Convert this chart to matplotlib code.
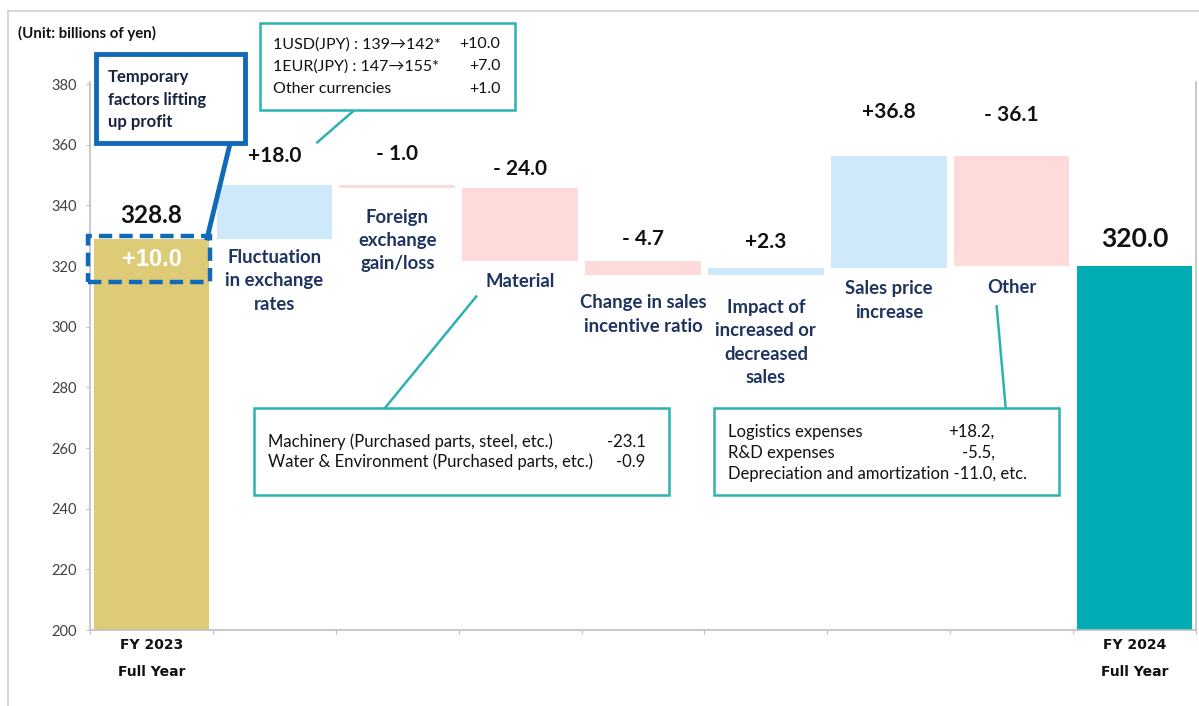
import numpy as np
import matplotlib
matplotlib.use('Agg')
import matplotlib.pyplot as plt
from matplotlib.patches import Rectangle
from matplotlib.lines import Line2D

plt.rcParams['font.family'] = ['Lato', 'DejaVu Sans']

# data (billions of yen)
start_value = 328.8
end_value = 320.0
temp_factor = 10.0
changes = [18.0, -1.0, -24.0, -4.7, 2.3, 36.8, -36.1]
change_text = ['+18.0', '- 1.0', '- 24.0', '- 4.7', '+2.3', '+36.8', '- 36.1']
categories = ['Fluctuation\nin exchange\nrates', 'Foreign\nexchange\ngain/loss', 'Material',
              'Change in sales\nincentive ratio', 'Impact of\nincreased or\ndecreased\nsales',
              'Sales price\nincrease', 'Other']
end_labels = [('FY 2023', 'Full Year'), ('FY 2024', 'Full Year')]
yticks = [200, 220, 240, 260, 280, 300, 320, 340, 360, 380]

fx_items = ['1USD(JPY) : 139\u2192142*', '1EUR(JPY) : 147\u2192155*', 'Other currencies']
fx_values = ['+10.0', '+7.0', '+1.0']
material_items = ['Machinery (Purchased parts, steel, etc.)', 'Water & Environment (Purchased parts, etc.)']
material_values = ['-23.1', '-0.9']
other_items = ['Logistics expenses', 'R&D expenses', 'Depreciation and amortization -11.0, etc.']
other_values = ['+18.2,', '-5.5,', '']

# label placement (data units)
value_label_y = [356.2, 356.9, 351.9, 328.8, 328.1, 370.8, 369.8]
cat_label_y = [315.1, 328.5, 315.0, 304.0, 294.8, 308.7, 313.0]

GOLD = '#DECB77'
TEAL = '#00ADB5'
UP = '#CDE9FA'
DOWN = '#FDDBDB'
NAVY = '#1F3360'
BOXC = '#2DB2B2'
BLUE = '#1169B8'
GRID = '#BFBFBF'

fig = plt.figure(figsize=(11.99, 7.06), dpi=100)
ax = fig.add_axes([0.0751, 0.1076, 0.9224, 0.7762])

w = 0.94
ax.bar(0, start_value - 200, bottom=200, width=w, color=GOLD, zorder=2)
level = start_value
for i, c in enumerate(changes):
    x = i + 1
    lo = min(level, level + c)
    ax.bar(x, abs(c), bottom=lo, width=w, color=UP if c > 0 else DOWN, zorder=2)
    ax.text(x, value_label_y[i], change_text[i], ha='center', va='center',
            fontsize=15, fontweight='bold', color='#111111')
    ax.text(x, cat_label_y[i], categories[i], ha='center', va='center',
            fontsize=13.3, fontweight='bold', color=NAVY, linespacing=1.45)
    level += c
ax.bar(8, end_value - 200, bottom=200, width=w, color=TEAL, zorder=2)

ax.text(0, 336.7, f'{start_value:.1f}', ha='center', va='center', fontsize=17.5,
        fontweight='bold', color='#111111')
ax.text(8, 329.1, f'{end_value:.1f}', ha='center', va='center', fontsize=19,
        fontweight='bold', color='#111111')

# temporary factor on the FY2023 bar
ax.add_patch(Rectangle((-0.516, 314.9), 0.993, 14.9, fill=False, edgecolor=BLUE,
                       lw=3.2, ls=(0, (3, 1.6)), zorder=4, clip_on=False))
ax.text(0, 322.2, f'+{temp_factor:.1f}', ha='center', va='center', fontsize=17,
        fontweight='bold', color='white', family=['Liberation Sans'], zorder=5)
ax.add_patch(Rectangle((-0.451, 360.6), 1.213, 29.3, facecolor='white', edgecolor=BLUE,
                       lw=3.5, zorder=5, clip_on=False))
ax.text(-0.353, 374.9, 'Temporary\nfactors lifting\nup profit', ha='left', va='center',
        fontsize=12, fontweight='bold', color='#17233F', linespacing=1.5, zorder=6)
ax.add_line(Line2D([0.640, 0.453], [360.5, 329.3], color=BLUE, lw=3.5, zorder=4,
                   clip_on=False))

# fx box
ax.add_patch(Rectangle((0.884, 371.4), 2.077, 28.7, facecolor='white', edgecolor=BOXC,
                       lw=1.8, zorder=5, clip_on=False))
for k, yy in enumerate([393.2, 385.9, 378.3]):
    ax.text(0.99, yy, fx_items[k], ha='left', va='center', fontsize=11.5, color='#111111',
            zorder=6, clip_on=False)
    ax.text(2.839, yy, fx_values[k], ha='right', va='center', fontsize=11.5, color='#111111',
            zorder=6, clip_on=False)
ax.add_line(Line2D([1.650, 1.349], [371.4, 360.8], color=BOXC, lw=1.8, zorder=4, clip_on=False))

# material box
ax.add_patch(Rectangle((0.836, 244.6), 3.379, 28.7, facecolor='white', edgecolor=BOXC,
                       lw=1.8, zorder=5))
for k, yy in enumerate([262.1, 255.5]):
    ax.text(0.95, yy, material_items[k], ha='left', va='center', fontsize=12,
            color='#111111', zorder=6)
    ax.text(4.02, yy, material_values[k], ha='right', va='center', fontsize=12,
            color='#111111', zorder=6)
ax.add_line(Line2D([1.902, 2.643], [273.3, 310.0], color=BOXC, lw=1.8, zorder=4))

# other box
ax.add_patch(Rectangle((4.581, 244.6), 2.802, 28.7, facecolor='white', edgecolor=BOXC,
                       lw=1.8, zorder=5))
for k, yy in enumerate([265.4, 258.5, 251.5]):
    ax.text(4.695, yy, other_items[k], ha='left', va='center', fontsize=12,
            color='#111111', zorder=6)
    ax.text(6.861, yy, other_values[k], ha='right', va='center', fontsize=12,
            color='#111111', zorder=6)
ax.add_line(Line2D([6.951, 6.878], [273.3, 306.7], color=BOXC, lw=1.8, zorder=4))

# bottom labels
for x, (a, b) in zip([0, 8], end_labels):
    ax.text(x, 195.0, a, ha='center', va='center', fontsize=10, fontweight='bold',
            family=['DejaVu Sans'], color='#111111', clip_on=False)
    ax.text(x, 186.1, b, ha='center', va='center', fontsize=10, fontweight='bold',
            family=['DejaVu Sans'], color='#111111', clip_on=False)

ax.set_xlim(-0.5, 8.5)
ax.set_ylim(200, 380.7)
ax.set_yticks(yticks)
ax.set_yticklabels([str(t) for t in yticks], fontsize=10.5, color='#404040')
ax.set_xticks(np.arange(-0.5, 9.0, 1.0))
ax.set_xticklabels([])
ax.tick_params(axis='y', length=3, width=0.8, color=GRID, pad=6.5)
ax.tick_params(axis='x', length=3, width=0.8, color=GRID)
for s in ['left', 'bottom', 'right']:
    ax.spines[s].set_color(GRID)
    ax.spines[s].set_linewidth(1.2)
ax.spines['top'].set_visible(False)

fig.text(18 / 1199, 1 - 33 / 706, '(Unit: billions of yen)', ha='left', va='center',
         fontsize=10.8, fontweight='bold', color='#111111')
fig.add_artist(Line2D([8 / 1199, 8 / 1199], [0, 1 - 11 / 706], color='#D0D0D0', lw=1.2))
fig.add_artist(Line2D([8 / 1199, 1], [1 - 11 / 706, 1 - 11 / 706], color='#D0D0D0', lw=1.2))

fig.savefig('out.png', dpi=100)
